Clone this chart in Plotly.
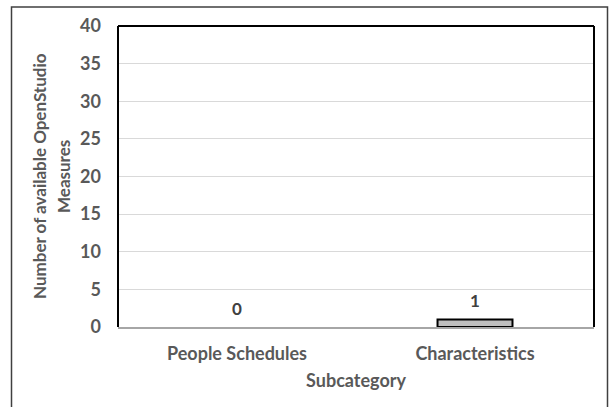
import plotly.graph_objects as go

categories = ["People Schedules", "Characteristics"]
values = [0, 1]
y_ticks = [0, 5, 10, 15, 20, 25, 30, 35, 40]
y_title_lines = ["Number of available OpenStudio", "Measures"]

W, H = 609, 407
L, R, T, B = 118, 15, 26, 80
pw, ph = W - L - R, H - T - B

def px(x):
    return (x - L) / pw

def py(y):
    return (H - B - y) / ph

FONT = "Lato"
TICK_C = "#595959"

fig = go.Figure()
fig.add_trace(go.Bar(
    x=categories, y=values, width=0.315,
    marker=dict(color="#bfbfbf",
                line=dict(color="#000000", width=[2 if v > 0 else 0 for v in values])),
    hoverinfo="skip",
))

annotations = []
for c, v in zip(categories, values):
    annotations.append(dict(
        x=c, y=v, xref="x", yref="y", text=f"<b>{v}</b>", showarrow=False,
        yanchor="bottom", yshift=6,
        font=dict(family=FONT, size=17, color="#404040"),
    ))
for line_text, xc in zip(y_title_lines, [39.5, 63.5]):
    annotations.append(dict(
        x=px(xc), y=0.5, xref="paper", yref="paper",
        text=f"<b>{line_text}</b>",
        textangle=-90, showarrow=False, xanchor="center", yanchor="middle",
        font=dict(family=FONT, size=17, color=TICK_C),
    ))

shapes = [
    # outer chart border
    dict(type="rect", xref="paper", yref="paper",
         x0=px(11.5), x1=px(607.5), y0=py(415), y1=py(7),
         line=dict(color="#404040", width=1.5), layer="below"),
    # plot area border (left, top, right)
    dict(type="line", xref="paper", yref="paper", x0=0, x1=0, y0=0, y1=1,
         line=dict(color="#000000", width=2)),
    dict(type="line", xref="paper", yref="paper", x0=0, x1=1, y0=1, y1=1,
         line=dict(color="#000000", width=2)),
    dict(type="line", xref="paper", yref="paper", x0=1, x1=1, y0=0, y1=1,
         line=dict(color="#000000", width=2)),
]

fig.update_layout(
    width=W, height=H,
    margin=dict(l=L, r=R, t=T, b=B),
    paper_bgcolor="white", plot_bgcolor="white",
    showlegend=False,
    annotations=annotations,
    shapes=shapes,
    xaxis=dict(
        type="category", range=[-0.5, 1.5],
        showgrid=False, showline=True, linecolor="#a6a6a6", linewidth=2,
        ticks="", ticklabelstandoff=9,
        tickfont=dict(family=FONT, size=18, color=TICK_C),
        title=dict(text="<b>Subcategory</b>", standoff=12,
                   font=dict(family=FONT, size=18, color=TICK_C)),
        fixedrange=True,
    ),
    yaxis=dict(
        range=[0, 40], tickvals=y_ticks,
        ticktext=[f"<b>{t}</b>" for t in y_ticks],
        showgrid=True, gridcolor="#d9d9d9", gridwidth=1,
        zeroline=False, showline=False, ticks="", ticklabelstandoff=16,
        tickfont=dict(family=FONT, size=18, color=TICK_C),
        fixedrange=True,
    ),
)
fig.update_xaxes(ticktext=[f"<b>{c}</b>" for c in categories], tickvals=categories)

fig.write_html("out.html")
